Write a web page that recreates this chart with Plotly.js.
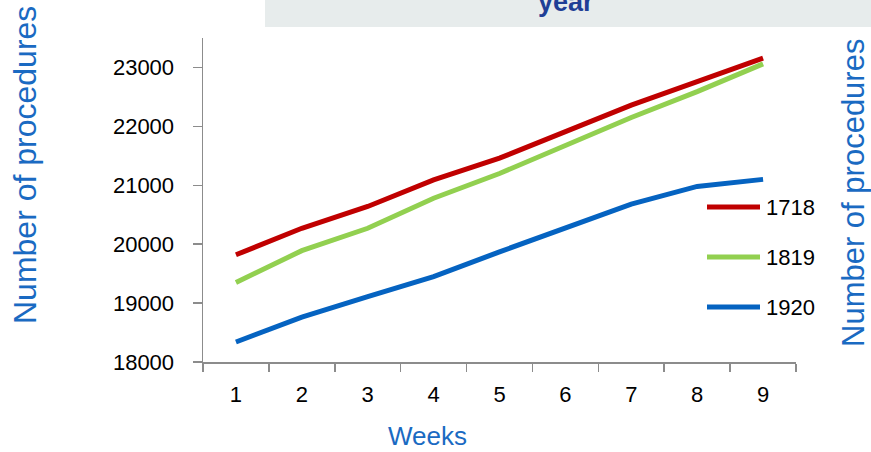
<!DOCTYPE html>
<html>
<head>
<meta charset="utf-8">
<script src="https://cdn.plot.ly/plotly-3.0.1.min.js"></script>
<style>html,body{margin:0;padding:0;background:#fff;}#chart{width:871px;height:452px;}</style>
</head>
<body>
<div id="chart"></div>
<script>
// ---- data ----
const weeks = ['1','2','3','4','5','6','7','8','9'];
const seriesNames = ['1718','1819','1920'];
const s1718 = [19820, 20270, 20640, 21090, 21460, 21910, 22360, 22760, 23160];
const s1819 = [19350, 19890, 20270, 20780, 21200, 21680, 22150, 22590, 23060];
const s1920 = [18340, 18760, 19110, 19450, 19870, 20270, 20680, 20980, 21100];
const yTicks = [18000, 19000, 20000, 21000, 22000, 23000];
const seriesColors = ['#C00000', '#92D050', '#0563C1'];

const allSeries = [s1718, s1819, s1920];
const traces = allSeries.map((vals, i) => ({
  type: 'scatter', mode: 'lines', x: weeks, y: vals, name: seriesNames[i],
  line: {color: seriesColors[i], width: 5}, showlegend: false, hoverinfo: 'none'
}));

// plot area in pixels: x 203..796, y 38..362
const W = 871, H = 452, L = 203, R = 75, T = 38, B = 90;
const pw = W - L - R, ph = H - T - B;
const px = p => (p - L) / pw;          // pixel x -> paper
const py = p => (H - B - p) / ph;      // pixel y -> paper

const shapes = [
  {type: 'rect', xref: 'paper', yref: 'paper', x0: px(265), x1: px(871), y0: py(27), y1: py(0),
   fillcolor: '#E7ECEC', line: {width: 0}, layer: 'below'}
];
const annotations = [
  {text: '<b>year</b>', xref: 'paper', yref: 'paper', x: px(566), y: py(19), xanchor: 'center', yanchor: 'bottom',
   showarrow: false, font: {family: 'Liberation Sans, Arial, sans-serif', size: 27, color: '#1F3F96'}},
  {text: 'Number of procedures', xref: 'paper', yref: 'paper', x: px(25), y: py(165), textangle: -90,
   xanchor: 'center', yanchor: 'middle', showarrow: false,
   font: {family: 'Liberation Sans, Arial, sans-serif', size: 32, color: '#1A6AC2'}},
  {text: 'Number of procedures', xref: 'paper', yref: 'paper', x: px(853), y: py(193), textangle: -90,
   xanchor: 'center', yanchor: 'middle', showarrow: false,
   font: {family: 'Liberation Sans, Arial, sans-serif', size: 31, color: '#1A6AC2'}},
  {text: 'Weeks', xref: 'paper', yref: 'paper', x: px(427), y: py(436), xanchor: 'center', yanchor: 'middle',
   showarrow: false, font: {family: 'Liberation Sans, Arial, sans-serif', size: 26, color: '#1A6AC2'}}
];
// legend built from series names/colors
seriesNames.forEach((n, i) => {
  const yc = 207 + 50 * i;
  shapes.push({type: 'line', xref: 'paper', yref: 'paper', x0: px(707), x1: px(760), y0: py(yc), y1: py(yc),
    line: {color: seriesColors[i], width: 5}});
  annotations.push({text: n, xref: 'paper', yref: 'paper', x: px(764), y: py(yc), xanchor: 'left', yanchor: 'middle',
    showarrow: false, font: {family: 'Liberation Sans, Arial, sans-serif', size: 22, color: '#000'}});
});

const layout = {
  width: W, height: H,
  margin: {l: L, r: R, t: T, b: B, pad: 0},
  paper_bgcolor: '#fff', plot_bgcolor: '#fff',
  showlegend: false,
  xaxis: {
    type: 'category', range: [-0.5, 8.5], tickson: 'boundaries', ticks: 'outside', ticklen: 8,
    tickcolor: '#8C8C8C', tickwidth: 1.5, showline: true, linecolor: '#8C8C8C', linewidth: 1.5,
    showgrid: false, zeroline: false, ticklabelstandoff: 12,
    tickfont: {family: 'Liberation Sans, Arial, sans-serif', size: 22, color: '#000'}
  },
  yaxis: {
    range: [18000, 23500], tickvals: yTicks, ticktext: yTicks.map(String), ticks: 'outside', ticklen: 9,
    tickcolor: '#8C8C8C', tickwidth: 1.5, showline: true, linecolor: '#8C8C8C', linewidth: 1.5,
    showgrid: false, zeroline: false, ticklabelstandoff: 14,
    tickfont: {family: 'Liberation Sans, Arial, sans-serif', size: 22, color: '#000'}
  },
  shapes: shapes,
  annotations: annotations
};

Plotly.newPlot('chart', traces, layout, {staticPlot: true, displayModeBar: false});
</script>
</body>
</html>
